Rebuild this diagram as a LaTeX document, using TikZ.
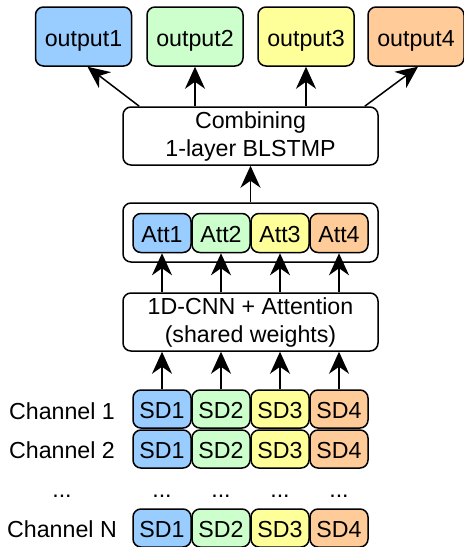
\documentclass[tikz,border=0pt]{standalone}
\usepackage{fontspec}
\setmainfont{Liberation Sans}
\usetikzlibrary{arrows.meta, calc, positioning}
\definecolor{sdblue}{HTML}{99CCFF}
\definecolor{sdgreen}{HTML}{CCFFCC}
\definecolor{sdyellow}{HTML}{FFFF99}
\definecolor{sdorange}{HTML}{FFCC99}
\tikzset{sdbox/.style={draw=black, line width=0.75pt, rounded corners=4pt, minimum width=29pt, minimum height=19pt, inner sep=0pt, text height=9.5pt, text depth=0pt}}
\tikzset{outbox/.style={sdbox, minimum width=48pt, minimum height=29.5pt}}
\tikzset{widebox/.style={draw=black, line width=0.75pt, rounded corners=4pt, minimum width=127.5pt, minimum height=29pt, inner sep=0pt, align=center}}
\tikzset{arr/.style={line width=0.75pt, -{Stealth[length=11pt, width=10pt, inset=3.5pt]}}}

\begin{document}
\begin{tikzpicture}[x=0.5pt, y=-0.5pt, font=\fontsize{11.6}{14}\selectfont]
    \useasboundingbox (0, 0) rectangle (463, 547);
    % outputs
    \node[outbox, fill=sdblue] (out1) at (83.5, 36.5) {output1};
    \node[outbox, fill=sdgreen] (out2) at (195, 36.5) {output2};
    \node[outbox, fill=sdyellow] (out3) at (306, 36.5) {output3};
    \node[outbox, fill=sdorange] (out4) at (416, 36.5) {output4};

    \node[widebox] (comb) at (250.5, 136) {Combining\\1-layer BLSTMP};
    \node[widebox, minimum height=29.5pt] (attbox) at (250.5, 232.5) {};
    \node[widebox] (cnn) at (250.5, 322) {1D-CNN + Attention\\(shared weights)};

    % attention and speech blocks
    \foreach \i/\x/\c in {1/162/sdblue, 2/221/sdgreen, 3/280/sdyellow, 4/339/sdorange} {
        \node[sdbox, fill=\c, minimum height=19.5pt] (att\i) at (\x, 233) {Att\i};
        \node[sdbox, fill=\c] (sda\i) at (\x, 409) {SD\i};
        \node[sdbox, fill=\c] (sdb\i) at (\x, 449) {SD\i};
        \node[sdbox, fill=\c] (sdn\i) at (\x, 528) {SD\i};
        \node[anchor=base] (dots\i) at (\x, 497) {...};
        \draw[arr] (cnn.north -| att\i) -- (att\i.south);
        \draw[arr] (sda\i.north) -- (cnn.south -| sda\i);
    }

    \node (ch1) at (62, 411) {Channel 1};
    \node (ch2) at (62, 450) {Channel 2};
    \node[anchor=base] (chdots) at (62, 497) {...};
    \node (chn) at (62, 529) {Channel N};

    \draw[arr] (attbox.north) -- (comb.south);
    \draw[arr] ($(comb.north west) + (17, 0)$) -- ($(out1.south) + (4, 0)$);
    \draw[arr] (comb.north -| out2) -- (out2.south);
    \draw[arr] (comb.north -| out3) -- (out3.south);
    \draw[arr] ($(comb.north east) + (-14, 0)$) -- ($(out4.south) + (2, 0)$);
\end{tikzpicture}
\end{document}
